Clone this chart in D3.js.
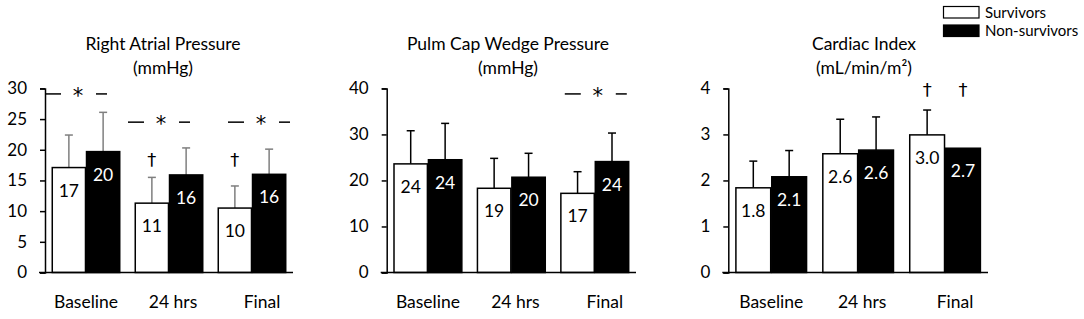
<!DOCTYPE html>
<html>
<head>
<meta charset="utf-8">
<script src="https://cdn.jsdelivr.net/npm/d3@7"></script>
<style>
  html, body { margin: 0; padding: 0; background: #fff; }
  svg { display: block; font-family: Lato, "Open Sans", sans-serif; }
</style>
</head>
<body>
<svg id="chart" width="1084" height="319"></svg>
<script>
// ---------- data ----------
const categories = ["Baseline", "24 hrs", "Final"];
const seriesNames = ["Survivors", "Non-survivors"];

// Right Atrial Pressure (mmHg)
const rapTicks = [0, 5, 10, 15, 20, 25, 30];
const rapSurv = [17.1, 11.3, 10.5];
const rapNon = [19.7, 15.9, 16.0];
const rapSurvErr = [22.4, 15.5, 14.1];
const rapNonErr = [26.1, 20.3, 20.1];
const rapSurvLabels = ["17", "11", "10"];
const rapNonLabels = ["20", "16", "16"];

// Pulm Cap Wedge Pressure (mmHg)
const pcwpTicks = [0, 10, 20, 30, 40];
const pcwpSurv = [23.6, 18.3, 17.2];
const pcwpNon = [24.5, 20.7, 24.1];
const pcwpSurvErr = [30.8, 24.8, 21.9];
const pcwpNonErr = [32.4, 25.9, 30.3];
const pcwpSurvLabels = ["24", "19", "17"];
const pcwpNonLabels = ["24", "20", "24"];

// Cardiac Index (mL/min/m2)
const ciTicks = [0, 1, 2, 3, 4];
const ciSurv = [1.84, 2.58, 2.99];
const ciNon = [2.08, 2.66, 2.70];
const ciSurvErr = [2.42, 3.33, 3.53];
const ciNonErr = [2.65, 3.38, null];
const ciSurvLabels = ["1.8", "2.6", "3.0"];
const ciNonLabels = ["2.1", "2.6", "2.7"];

// significance markers: [category, value level]
const rapStars = [["Baseline", 29.1], ["24 hrs", 24.5], ["Final", 24.5]];
const rapDaggers = [["24 hrs", "Survivors", 18.4], ["Final", "Survivors", 18.4]];
const pcwpStars = [["Final", 38.8]];
const pcwpDaggers = [];
const ciStars = [];
const ciDaggers = [["Final", "Survivors", 3.97], ["Final", "Non-survivors", 3.97]];

// ---------- layout ----------
const catLabelDx = [0, 4, 10];
const panels = [
  { title: ["Right Atrial Pressure", "(mmHg)"], titleX: 163, x0: 45, x1: 293, ticks: rapTicks,
    surv: rapSurv, non: rapNon, survErr: rapSurvErr, nonErr: rapNonErr,
    survLab: rapSurvLabels, nonLab: rapNonLabels, stars: rapStars, starDx: [-8, -8, 9],
    daggers: rapDaggers, errColor: "#7f7f7f" },
  { title: ["Pulm Cap Wedge Pressure", "(mmHg)"], titleX: 508, x0: 386.7, x1: 636, ticks: pcwpTicks,
    surv: pcwpSurv, non: pcwpNon, survErr: pcwpSurvErr, nonErr: pcwpNonErr,
    survLab: pcwpSurvLabels, nonLab: pcwpNonLabels, stars: pcwpStars, starDx: [3],
    daggers: pcwpDaggers, errColor: "#000" },
  { title: ["Cardiac Index", "(mL/min/m²)"], titleX: 864, x0: 728.3, x1: 988, ticks: ciTicks,
    surv: ciSurv, non: ciNon, survErr: ciSurvErr, nonErr: ciNonErr,
    survLab: ciSurvLabels, nonLab: ciNonLabels, stars: ciStars, starDx: [],
    daggers: ciDaggers, errColor: "#000" }
];

const yBottom = 272.5, yTop = 88.4;
const svg = d3.select("#chart");

panels.forEach(p => {
  const g = svg.append("g");
  const y = d3.scaleLinear().domain([0, d3.max(p.ticks)]).range([yBottom, yTop]);
  const x = d3.scaleBand().domain(categories).range([p.x0, p.x1]).paddingInner(0.187).paddingOuter(0.0875);
  const xs = d3.scaleBand().domain(seriesNames).range([0, x.bandwidth()]).paddingInner(0.03);

  // title
  const t = g.append("text").attr("x", p.titleX).attr("text-anchor", "middle")
    .attr("font-size", 17.5).attr("fill", "#000");
  t.append("tspan").attr("x", p.titleX).attr("y", 50).text(p.title[0]);
  t.append("tspan").attr("x", p.titleX).attr("y", 73.5).text(p.title[1]);

  // y axis
  const ya = g.append("g").attr("transform", `translate(${p.x0},0)`)
    .call(d3.axisLeft(y).tickValues(p.ticks).tickSize(5).tickSizeOuter(5).tickPadding(13).tickFormat(d3.format("d")));
  ya.selectAll("path, line").attr("stroke", "#000").attr("stroke-width", 1.5);
  ya.selectAll("text").attr("font-size", 17).attr("fill", "#000").attr("font-family", "Lato, sans-serif");

  // x axis (labels only) + baseline
  const xa = g.append("g").attr("transform", `translate(0,${yBottom})`)
    .call(d3.axisBottom(x).tickSize(0).tickPadding(23));
  xa.select(".domain").remove();
  xa.selectAll("text").attr("font-size", 17.5).attr("fill", "#000").attr("font-family", "Lato, sans-serif")
    .attr("dx", (d, i) => catLabelDx[i]);

  const rows = categories.map((c, i) => [
    { c, s: "Survivors", v: p.surv[i], e: p.survErr[i], lab: p.survLab[i] },
    { c, s: "Non-survivors", v: p.non[i], e: p.nonErr[i], lab: p.nonLab[i] }
  ]).flat();

  // error bars
  const eb = g.append("g").selectAll("g").data(rows.filter(d => d.e != null)).join("g");
  const cx = d => x(d.c) + xs(d.s) + xs.bandwidth() / 2;
  eb.append("line").attr("x1", cx).attr("x2", cx).attr("y1", d => y(d.v)).attr("y2", d => y(d.e))
    .attr("stroke", p.errColor).attr("stroke-width", 1.5);
  eb.append("line").attr("x1", d => cx(d) - 4).attr("x2", d => cx(d) + 4).attr("y1", d => y(d.e)).attr("y2", d => y(d.e))
    .attr("stroke", p.errColor).attr("stroke-width", 1.5);

  // bars
  g.append("g").selectAll("rect").data(rows).join("rect")
    .attr("x", d => x(d.c) + xs(d.s))
    .attr("y", d => y(d.v))
    .attr("width", xs.bandwidth())
    .attr("height", d => yBottom - y(d.v))
    .attr("fill", d => d.s === "Survivors" ? "#fff" : "#000")
    .attr("stroke", "#000").attr("stroke-width", 1.5);

  // value labels
  g.append("g").selectAll("text").data(rows).join("text")
    .attr("x", cx).attr("y", d => y(d.v) + 29)
    .attr("text-anchor", "middle").attr("font-size", 17.5)
    .attr("fill", d => d.s === "Survivors" ? "#000" : "#fff")
    .text(d => d.lab);

  // baseline line
  g.append("line").attr("x1", p.x0 - 6).attr("x2", p.x1).attr("y1", yBottom).attr("y2", yBottom)
    .attr("stroke", "#000").attr("stroke-width", 1.5);

  // significance stars with dashes
  p.stars.forEach(([c, v], i) => {
    const sx = x(c) + x.bandwidth() / 2 + p.starDx[i], sy = y(v);
    g.append("line").attr("x1", sx - 33).attr("x2", sx - 17).attr("y1", sy).attr("y2", sy).attr("stroke", "#000").attr("stroke-width", 1.5);
    g.append("line").attr("x1", sx + 18).attr("x2", sx + 29).attr("y1", sy).attr("y2", sy).attr("stroke", "#000").attr("stroke-width", 1.5);
    g.append("text").attr("x", sx).attr("y", sy + 9).attr("text-anchor", "middle")
      .attr("font-family", "DejaVu Sans, sans-serif").attr("font-size", 21).attr("fill", "#000").text("*");
  });
  p.daggers.forEach(([c, s, v]) => {
    g.append("text").attr("x", x(c) + xs(s) + xs.bandwidth() / 2).attr("y", y(v)).attr("dy", "0.35em")
      .attr("text-anchor", "middle").attr("font-family", "DejaVu Sans, sans-serif")
      .attr("font-size", 18).attr("fill", "#000").text("†");
  });
});

// legend
const lg = svg.append("g");
seriesNames.forEach((s, i) => {
  lg.append("rect").attr("x", 943.5).attr("y", 6.5 + i * 18.5).attr("width", 35.5).attr("height", 11.5)
    .attr("fill", i === 0 ? "#fff" : "#000").attr("stroke", "#000").attr("stroke-width", 1.2);
  lg.append("text").attr("x", 985).attr("y", 12.5 + i * 18.5).attr("dy", "0.35em")
    .attr("font-size", 15).attr("fill", "#000").text(s);
});
</script>
</body>
</html>
